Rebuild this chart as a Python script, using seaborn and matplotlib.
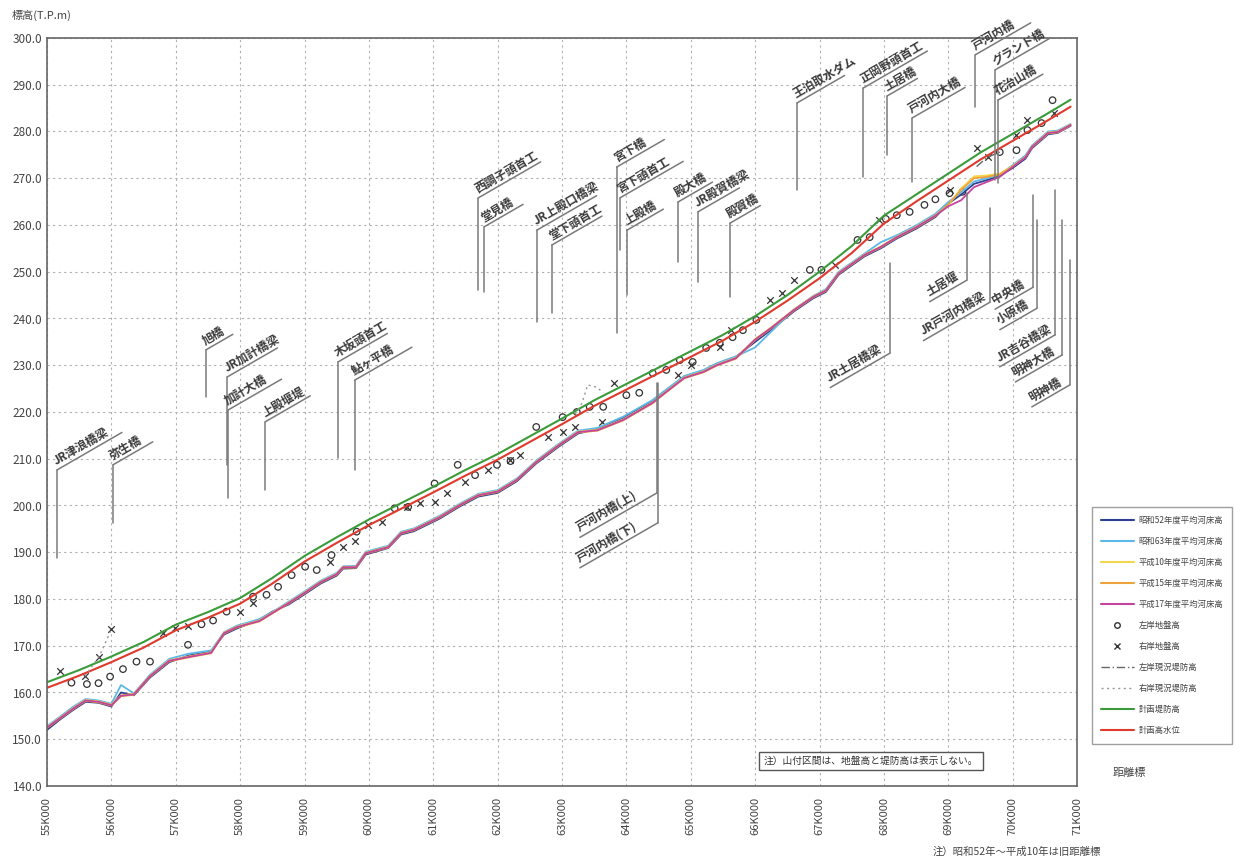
import numpy as np
import pandas as pd
import seaborn as sns
import matplotlib.pyplot as plt
from matplotlib.lines import Line2D
from matplotlib.ticker import MultipleLocator

sns.set_style("white")
plt.rcParams['font.family'] = ['Noto Sans CJK JP', 'DejaVu Sans']

# 平均河床高 (距離 km)
bed_km = [55.0, 55.2, 55.4, 55.6, 55.8, 56.0, 56.15, 56.35, 56.6, 56.9, 57.2, 57.55, 57.75, 57.95,
          58.3, 58.5, 58.75, 59.0, 59.25, 59.5, 59.6, 59.8, 59.95, 60.3, 60.5, 60.7, 61.1, 61.4,
          61.7, 62.0, 62.3, 62.6, 62.95, 63.25, 63.55, 63.75, 63.95, 64.4, 64.6, 64.9, 65.2, 65.4,
          65.7, 66.0, 66.25, 66.6, 66.9, 67.1, 67.3, 67.7, 67.95, 68.2, 68.5, 68.8, 69.0, 69.2,
          69.4, 69.6, 69.8, 70.0, 70.2, 70.3, 70.55, 70.7, 70.9]
bed_s52 = [152.0, 154.2, 156.2, 158.0, 157.8, 157.0, 160.0, 159.4, 163.2, 166.5, 167.9, 168.8, 172.4,
           173.7, 175.6, 177.3, 178.8, 181.0, 183.3, 185.0, 186.5, 186.6, 189.5, 190.9, 193.8, 194.5,
           197.2, 199.7, 201.9, 202.7, 205.2, 209.0, 212.6, 215.4, 216.4, 217.6, 218.8, 222.3, 224.5,
           227.6, 228.9, 230.3, 231.8, 235.0, 237.6, 241.5, 244.3, 245.7, 249.4, 253.3, 255.0, 257.1,
           259.2, 261.7, 264.6, 266.5, 268.8, 269.6, 270.5, 272.2, 274.2, 276.4, 279.4, 279.7, 281.2]
bed_s63 = [152.8, 154.8, 156.9, 158.6, 158.3, 157.6, 161.6, 159.8, 163.8, 167.2, 168.3, 169.0, 172.9,
           174.3, 175.7, 177.2, 179.4, 181.6, 183.9, 185.6, 187.0, 187.1, 190.1, 191.4, 194.4, 195.1,
           197.8, 200.3, 202.5, 203.3, 205.8, 209.6, 213.2, 216.0, 216.6, 217.8, 219.0, 222.5, 224.6,
           227.7, 229.0, 230.4, 231.9, 233.8, 237.2, 241.9, 244.8, 246.3, 250.0, 253.9, 256.3, 257.8,
           259.9, 262.4, 264.9, 267.0, 269.3, 270.0, 270.8, 272.8, 274.9, 277.0, 280.0, 280.2, 281.6]
bed_h10 = [152.6, 154.6, 156.6, 158.4, 158.1, 157.4, 159.4, 159.7, 163.6, 166.9, 167.7, 168.6, 172.8,
           174.1, 175.4, 177.1, 179.2, 181.4, 183.7, 185.4, 186.9, 186.9, 189.9, 191.2, 194.2, 194.9,
           197.6, 200.1, 202.3, 203.1, 205.6, 209.4, 213.0, 215.8, 216.2, 217.3, 218.4, 222.0, 224.2,
           227.4, 228.7, 230.1, 231.6, 235.6, 238.1, 241.9, 244.7, 246.1, 249.8, 253.7, 255.4, 257.5,
           259.6, 262.1, 264.3, 267.8, 270.4, 270.6, 271.0, 272.6, 274.6, 276.8, 279.8, 280.0, 281.5]
bed_h15 = [152.4, 154.4, 156.4, 158.2, 157.9, 157.2, 159.2, 159.5, 163.4, 166.7, 167.5, 168.4, 172.6,
           173.9, 175.2, 176.9, 179.0, 181.2, 183.5, 185.2, 186.7, 186.7, 189.7, 191.0, 194.0, 194.7,
           197.4, 199.9, 202.1, 202.9, 205.4, 209.2, 212.8, 215.6, 216.0, 217.1, 218.2, 221.8, 224.0,
           227.2, 228.5, 229.9, 231.4, 235.4, 237.9, 241.7, 244.5, 245.9, 249.6, 253.5, 255.2, 257.3,
           259.4, 261.9, 264.4, 267.5, 270.0, 270.3, 270.8, 272.5, 274.5, 276.6, 279.6, 279.8, 281.3]
bed_h17 = [152.5, 154.5, 156.5, 158.3, 158.0, 157.3, 159.3, 159.6, 163.5, 166.8, 167.6, 168.5, 172.7,
           174.0, 175.3, 177.0, 179.1, 181.3, 183.6, 185.3, 186.8, 186.8, 189.8, 191.1, 194.1, 194.8,
           197.5, 200.0, 202.2, 203.0, 205.5, 209.3, 212.9, 215.7, 216.1, 217.2, 218.3, 221.9, 224.1,
           227.3, 228.6, 230.0, 231.5, 235.5, 238.0, 241.8, 244.6, 246.0, 249.7, 253.6, 255.3, 257.4,
           259.5, 262.0, 264.0, 265.3, 268.1, 269.2, 270.3, 272.4, 274.5, 276.7, 279.7, 279.9, 281.4]
bed_names = ["昭和52年度平均河床高", "昭和63年度平均河床高", "平成10年度平均河床高",
             "平成15年度平均河床高", "平成17年度平均河床高"]
bed_colors = ["#2e3f8f", "#5cb8e8", "#f2d64b", "#eea23a", "#c2449e"]

# 計画堤防高・計画高水位
plan_km = [55.0, 55.5, 56.0, 56.5, 57.0, 57.5, 58.0, 58.5, 59.0, 59.5, 60.0, 60.5, 61.0, 61.5, 62.0,
           62.5, 63.0, 63.5, 64.0, 64.5, 65.0, 65.5, 66.0, 66.5, 67.0, 67.5, 68.0, 68.5, 69.0, 69.5,
           70.0, 70.5, 70.9]
plan_levee = [162.2, 164.8, 167.7, 170.8, 174.5, 177.2, 180.2, 184.5, 189.2, 193.2, 197.0, 200.5,
              204.0, 207.6, 211.0, 214.8, 218.6, 222.5, 226.0, 229.5, 233.0, 236.5, 240.5, 245.0,
              250.0, 255.5, 262.0, 266.5, 271.0, 275.5, 279.5, 283.5, 286.8]
plan_hwl = [161.0, 163.6, 166.5, 169.6, 173.3, 176.0, 179.0, 183.3, 188.0, 192.0, 195.8, 199.3,
            202.8, 206.4, 209.8, 213.6, 217.4, 221.3, 224.8, 228.3, 231.8, 235.3, 239.3, 243.8,
            248.6, 254.0, 260.3, 265.0, 269.5, 274.0, 278.0, 282.0, 285.3]

# 地盤高
left_km = [55.38, 55.62, 55.80, 55.98, 56.18, 56.39, 56.60, 57.19, 57.40, 57.58, 57.79, 58.20, 58.41,
           58.59, 58.80, 59.01, 59.19, 59.42, 59.81, 60.40, 60.61, 61.02, 61.38, 61.65, 61.99, 62.20,
           62.60, 63.01, 63.23, 63.43, 63.64, 64.00, 64.20, 64.41, 64.62, 64.83, 65.03, 65.24, 65.45,
           65.65, 65.81, 66.02, 66.85, 67.03, 67.59, 67.78, 68.03, 68.20, 68.40, 68.63, 68.80, 69.02,
           69.22, 69.80, 70.06, 70.23, 70.45, 70.62]
left_el = [162.1, 161.8, 162.0, 163.4, 165.0, 166.6, 166.6, 170.2, 174.6, 175.4, 177.3, 180.5, 180.9,
           182.6, 185.1, 186.9, 186.2, 189.4, 194.4, 199.4, 199.7, 204.7, 208.7, 206.5, 208.7, 209.5,
           216.8, 218.9, 220.0, 221.1, 221.1, 223.6, 224.1, 228.3, 229.0, 231.1, 230.7, 233.7, 234.8,
           236.0, 237.5, 239.7, 250.4, 250.4, 256.8, 257.4, 261.3, 262.1, 262.8, 264.3, 265.5, 266.8,
           267.1, 275.6, 276.0, 280.3, 281.8, 286.7]
right_km = [55.20, 55.59, 55.81, 56.00, 56.80, 56.99, 57.19, 58.00, 58.20, 59.39, 59.60, 59.78, 59.99,
            60.20, 60.59, 60.79, 61.02, 61.21, 61.50, 61.85, 62.19, 62.34, 62.78, 63.01, 63.20, 63.62,
            63.80, 64.80, 65.01, 65.45, 65.63, 66.23, 66.41, 66.61, 67.24, 67.93, 69.02, 69.44, 69.61,
            70.06, 70.23, 70.65]
right_el = [164.5, 163.5, 167.7, 173.5, 172.7, 173.7, 174.2, 177.3, 179.1, 188.0, 191.2, 192.3, 195.8,
            196.5, 199.7, 200.5, 200.8, 202.7, 205.0, 207.6, 209.7, 210.8, 214.6, 215.7, 216.8, 217.9,
            226.2, 227.9, 230.1, 234.0, 237.5, 244.0, 245.4, 248.2, 251.4, 261.1, 267.5, 276.5, 274.5,
            279.2, 282.5, 283.9]

# 現況堤防高 (一部区間のみ)
left_levee_km = [69.44, 69.61, 69.80]
left_levee_el = [272.5, 274.5, 275.6]
right_levee_km = [55.59, 55.81, 56.00, 63.20, 63.31, 63.40, 63.54, 63.64]
right_levee_el = [163.5, 167.7, 173.5, 219.5, 221.9, 225.8, 225.3, 224.1]
right_levee_seg = [0, 0, 0, 1, 1, 1, 1, 1]

# 構造物 (名称, 距離km, 引出線端標高, 折点標高, 斜線長px)
upper_labels = [
    ("JR津浪橋梁", 55.155, 188.8, 207.6, 75), ("弥生橋", 56.025, 196.3, 208.7, 46),
    ("旭橋", 57.47, 223.2, 233.3, 31), ("JR加計橋梁", 57.80, 208.7, 227.5, 58),
    ("加計大橋", 57.81, 201.6, 220.4, 62), ("上殿堰堤", 58.39, 203.3, 217.9, 52),
    ("木坂頭首工", 59.52, 210.2, 230.7, 57), ("鮎ヶ平橋", 59.78, 207.6, 226.8, 66),
    ("西調子頭首工", 61.70, 246.1, 265.8, 72), ("堂見橋", 61.79, 245.7, 259.6, 45),
    ("JR上殿口橋梁", 62.61, 239.3, 258.9, 69), ("堂下頭首工", 62.84, 241.2, 255.7, 58),
    ("宮下橋", 63.85, 236.9, 272.4, 55), ("宮下頭首工", 63.90, 254.7, 265.8, 73),
    ("上殿橋", 64.01, 245.0, 258.9, 42), ("殿大橋", 64.80, 252.1, 264.9, 40),
    ("JR殿賀橋梁", 65.11, 247.8, 262.8, 48), ("殿賀橋", 65.61, 244.6, 260.4, 35),
    ("王泊取水ダム", 66.65, 267.5, 286.1, 55), ("正岡野頭首工", 67.68, 270.3, 289.3, 74),
    ("土居橋", 68.05, 275.0, 287.6, 35), ("戸河内大橋", 68.44, 269.2, 282.9, 61),
    ("戸河内橋", 69.42, 285.2, 296.4, 64), ("グランド橋", 69.73, 269.6, 293.2, 64),
    ("花治山橋", 69.77, 269.0, 286.7, 52),
]
lower_labels = [
    ("戸河内橋(上)", 64.476, 226.2, 202.7, 89), ("戸河内橋(下)", 64.49, 226.2, 196.3, 90),
    ("JR土居橋梁", 68.095, 251.9, 232.6, 69), ("土居堰", 69.29, 266.8, 248.2, 43),
    ("JR戸河内橋梁", 69.65, 263.6, 243.5, 77), ("中央橋", 70.32, 266.4, 246.7, 44),
    ("小原橋", 70.38, 261.1, 242.2, 43), ("JR吉谷橋梁", 70.66, 267.5, 236.5, 64),
    ("明神大橋", 70.77, 261.1, 232.2, 54), ("明神橋", 70.89, 252.5, 225.8, 44),
]

W, H = 1235, 863
fig = plt.figure(figsize=(W / 100, H / 100), dpi=100)
ax = fig.add_axes([47 / W, 1 - 786 / H, (1077 - 47) / W, (786 - 38) / H])

bed = pd.DataFrame({
    "km": bed_km * 5,
    "elev": bed_s52 + bed_s63 + bed_h10 + bed_h15 + bed_h17,
    "series": sum([[n] * len(bed_km) for n in bed_names], []),
})
sns.lineplot(data=bed, x="km", y="elev", hue="series", palette=dict(zip(bed_names, bed_colors)),
             estimator=None, sort=False, lw=1.3, legend=False, ax=ax)
sns.lineplot(x=plan_km, y=plan_levee, color="#3b9b3b", lw=1.5, ax=ax)
sns.lineplot(x=plan_km, y=plan_hwl, color="#e03a2e", lw=1.5, ax=ax)

rl = pd.DataFrame({"km": right_levee_km, "el": right_levee_el, "seg": right_levee_seg})
for _, g in rl.groupby("seg"):
    sns.lineplot(data=g, x="km", y="el", color="#999999", lw=1.0, ls=(0, (1.5, 2.5)),
                 estimator=None, sort=False, ax=ax)
sns.lineplot(x=left_levee_km, y=left_levee_el, color="#666666", lw=1.0, ls=(0, (6, 2, 1, 2)),
             estimator=None, sort=False, ax=ax)

sns.scatterplot(x=left_km, y=left_el, marker="o", s=22, facecolors="none", edgecolor="#333333",
                linewidth=0.9, ax=ax)
sns.scatterplot(x=right_km, y=right_el, marker="x", s=22, color="#333333", linewidth=0.9, ax=ax)

# axes
ax.set_xlim(55, 71)
ax.set_ylim(140, 300)
ax.xaxis.set_major_locator(MultipleLocator(1))
ax.xaxis.set_minor_locator(MultipleLocator(0.2))
ax.yaxis.set_major_locator(MultipleLocator(10))
ax.yaxis.set_minor_locator(MultipleLocator(2))
ax.set_xticks(range(55, 72))
ax.set_xticklabels([f"{k}K000" for k in range(55, 72)], rotation=90, fontsize=8, color="#444")
ax.set_yticklabels([f"{v:.1f}" for v in ax.get_yticks()], fontsize=8.5, color="#444")
ax.tick_params(which="both", direction="in", color="#777")
ax.tick_params(which="major", length=4)
ax.tick_params(which="minor", length=2)
ax.tick_params(axis="x", pad=8)
ax.grid(True, which="major", color="#b0b0b0", lw=0.8, ls=(0, (2, 3)))
ax.set_xlabel("")
ax.set_ylabel("")
for s in ax.spines.values():
    s.set_color("#666666")
    s.set_linewidth(1.2)

# 構造物の引出線
lc = "#7a7a7a"
c30, s30 = np.cos(np.radians(30)), np.sin(np.radians(30))
for name, km, y_far, y_bend, L in upper_labels:
    ax.plot([km, km], [y_far, y_bend], color=lc, lw=1.1, clip_on=False)
    ax.annotate("", xy=(km, y_bend), xytext=(L * c30, L * s30), textcoords="offset pixels",
                arrowprops=dict(arrowstyle="-", color=lc, lw=1.1, shrinkA=0, shrinkB=0),
                annotation_clip=False)
    ax.annotate(name, xy=(km, y_bend), xytext=(1, 2.5), textcoords="offset pixels", rotation=30,
                rotation_mode="anchor", ha="left", va="bottom", fontsize=8.5, fontweight="bold",
                color="#3a3a3a", annotation_clip=False)
for name, km, y_far, y_bend, L in lower_labels:
    ax.plot([km, km], [y_far, y_bend], color=lc, lw=1.1, clip_on=False)
    ax.annotate("", xy=(km, y_bend), xytext=(-L * c30, -L * s30), textcoords="offset pixels",
                arrowprops=dict(arrowstyle="-", color=lc, lw=1.1, shrinkA=0, shrinkB=0),
                annotation_clip=False)
    ax.annotate(name, xy=(km, y_bend), xytext=(-L * c30 + 1, -L * s30 + 2.5), textcoords="offset pixels",
                rotation=30, rotation_mode="anchor", ha="left", va="bottom", fontsize=8.5,
                fontweight="bold", color="#3a3a3a", annotation_clip=False)

# legend
handles = [Line2D([], [], color=c, lw=1.5) for c in bed_colors]
handles += [Line2D([], [], ls="none", marker="o", mfc="none", mec="#333", ms=4),
            Line2D([], [], ls="none", marker="x", color="#333", ms=4),
            Line2D([], [], color="#666", lw=1.0, ls=(0, (6, 2, 1, 2))),
            Line2D([], [], color="#999", lw=1.0, ls=(0, (1.5, 2.5))),
            Line2D([], [], color="#3b9b3b", lw=1.5),
            Line2D([], [], color="#e03a2e", lw=1.5)]
labels = bed_names + ["左岸地盤高", "右岸地盤高", "左岸現況堤防高", "右岸現況堤防高", "計画堤防高", "計画高水位"]
fig.legend(handles, labels, loc="upper left", bbox_to_anchor=(1088 / W, 1 - 503 / H), fontsize=6,
           frameon=True, fancybox=False, edgecolor="#888", handlelength=4.0, labelspacing=1.45,
           borderpad=1.0, handletextpad=0.6, labelcolor="#444")

fig.text(12 / W, 1 - 15 / H, "標高(T.P.m)", fontsize=8, color="#444", va="center")
fig.text(871 / W, 1 - 761 / H, "注）山付区間は、地盤高と堤防高は表示しない。", fontsize=7, color="#333",
         ha="center", va="center",
         bbox=dict(boxstyle="square,pad=0.45", fc="white", ec="#555", lw=1.0))
fig.text(1113 / W, 1 - 773 / H, "距離標", fontsize=8, color="#444", va="center")
fig.text(1017 / W, 1 - 852 / H, "注）昭和52年～平成10年は旧距離標", fontsize=7.5, color="#444",
         ha="center", va="center")

fig.savefig("out.png", dpi=100)
